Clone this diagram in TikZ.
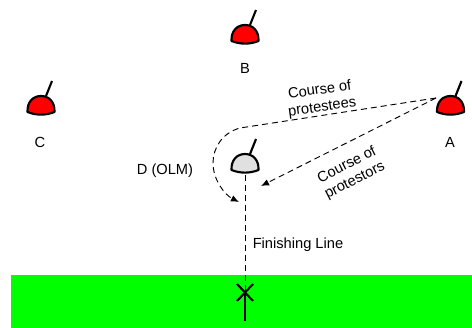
\documentclass[tikz,border=0pt]{standalone}
\usepackage{fontspec}
\setmainfont{Liberation Sans}
\usetikzlibrary{arrows.meta}
\definecolor{helmetred}{RGB}{255,0,0}
\definecolor{helmetgrey}{RGB}{224,224,224}
\definecolor{fieldgreen}{RGB}{0,255,0}
\tikzset{
  course/.style={draw,line width=0.7pt,dash pattern=on 4.5pt off 3pt,-{Latex[length=6pt,width=5pt]}},
  lbl/.style={inner sep=0pt,font=\fontsize{11}{13}\selectfont,align=center},
  pics/helmet/.style={code={
    \draw[line width=1.6pt,line join=round,fill=#1] (-13.5,-3) .. controls (-14,-13) and (-8,-19) .. (0,-19)
      .. controls (8,-19) and (14,-13) .. (13.5,-3) .. controls (5,0.5) and (-5,0.5) .. cycle;
    \draw[line width=1.6pt] (5,-19) -- (11,-34);
  }}
}
\begin{document}
\begin{tikzpicture}[x=0.75pt,y=-0.75pt]
\useasboundingbox (0,0) rectangle (472,328);
\fill[fieldgreen] (11,275) rectangle (472,328);
\pic at (245,44) {helmet=helmetred};
\pic at (450.5,115) {helmet=helmetred};
\pic at (41,115) {helmet=helmetred};
\pic at (245,173) {helmet=helmetgrey};
\node[lbl] (B) at (245,68) {B};
\node[lbl] (A) at (450,142) {A};
\node[lbl] (C) at (40,142) {C};
\node[lbl] (D) at (165,171) {D (OLM)};
\node[lbl] (finish) at (298,245) {Finishing Line};
\node[lbl,rotate=8] (protestees) at (321,99) {Course of\\protestees};
\node[lbl,rotate=27] (protestors) at (351,173) {Course of\\protestors};
\coordinate (start) at (436,98);
\coordinate (tipD) at (239,202);
\coordinate (tipP) at (261,186);
\coordinate (top) at (245,175);
\coordinate (mark) at (245,292);
\coordinate (foot) at (245,321);
\path[course] (start) -- (240,128) .. controls (222,133) and (213,148) .. (213,163) .. controls (213,180) and (225,195) .. (tipD);
\path[course] (start) -- (tipP);
\path[draw,line width=0.7pt,dash pattern=on 4.5pt off 3pt] (top) -- (mark);
\path[draw,line width=1.6pt] (mark) -- (foot);
\path[draw,line width=1.6pt] (237,284) -- (253,301);
\path[draw,line width=1.6pt] (253,284) -- (237,301);
\end{tikzpicture}
\end{document}
